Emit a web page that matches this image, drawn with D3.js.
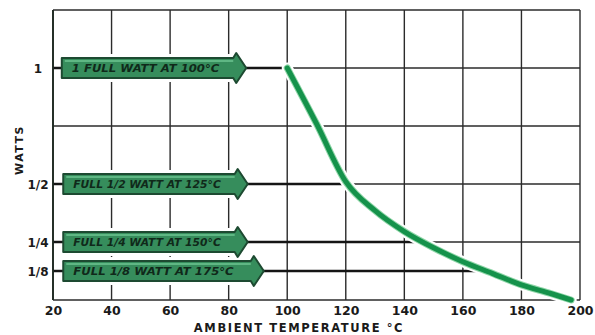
<!DOCTYPE html>
<html>
<head>
<meta charset="utf-8">
<script src="https://cdn.jsdelivr.net/npm/d3@7"></script>
<style>
  html, body { margin: 0; padding: 0; background: #fff; }
  svg { display: block; }
  text { font-family: "DejaVu Sans", sans-serif; }
</style>
</head>
<body>
<svg id="chart" width="595" height="335"></svg>
<script>
// ---- data ----
const xTicks = [20, 40, 60, 80, 100, 120, 140, 160, 180, 200];
const yGridValues = [0, 0.25, 0.5, 0.75, 1, 1.25];
const yTickValues = [1, 0.5, 0.25, 0.125];
const yTickLabels = ["1", "1/2", "1/4", "1/8"];

// derating curve (temperature °C, watts)
const curveTemps = [100, 110, 120, 130, 140, 150, 160, 170, 180, 190, 197];
const curveWatts = [1, 0.76, 0.51, 0.385, 0.295, 0.225, 0.165, 0.115, 0.065, 0.028, 0];

// banners
const bannerLabels = ["1 FULL WATT AT 100°C", "FULL 1/2 WATT AT 125°C", "FULL 1/4 WATT AT 150°C", "FULL 1/8 WATT AT 175°C"];
const bannerWatts = [1, 0.5, 0.25, 0.125];
const bannerStartTemps = [23, 23.5, 23.5, 23.5];
const bannerTipTemps = [86, 86.5, 86.5, 92];

const xTitle = "AMBIENT TEMPERATURE °C";
const yTitle = "WATTS";

// ---- layout ----
const svg = d3.select("#chart");
const x = d3.scaleLinear().domain([20, 200]).range([53, 580]);
const y = d3.scaleLinear().domain([0, 1.25]).range([300, 10]);

const gridColor = "#2b2b2b";

// vertical grid
svg.append("g").selectAll("line").data(xTicks).join("line")
  .attr("x1", d => x(d)).attr("x2", d => x(d))
  .attr("y1", y(1.25)).attr("y2", y(0))
  .attr("stroke", gridColor).attr("stroke-width", 1.4);

// horizontal grid
svg.append("g").selectAll("line").data(yGridValues).join("line")
  .attr("x1", x(20)).attr("x2", x(200))
  .attr("y1", d => y(d)).attr("y2", d => y(d))
  .attr("stroke", gridColor).attr("stroke-width", 1.4);

// curve points
const pts = curveTemps.map((t, i) => [t, curveWatts[i]]);
function tempAtWatt(w) {
  for (let i = 0; i < pts.length - 1; i++) {
    const [t0, w0] = pts[i], [t1, w1] = pts[i + 1];
    if ((w <= w0 && w >= w1)) {
      return t0 + (t1 - t0) * (w0 - w) / (w0 - w1 || 1);
    }
  }
  return pts[0][0];
}

const banners = bannerLabels.map((label, i) => ({
  label, w: bannerWatts[i], t0: bannerStartTemps[i], t1: bannerTipTemps[i]
}));

// white backdrops (gaps in vertical grid around banners)
svg.append("g").selectAll("rect").data(banners).join("rect")
  .attr("x", d => x(d.t0) - 2)
  .attr("y", d => y(d.w) - 14)
  .attr("width", d => x(d.t1) - x(d.t0) + 4)
  .attr("height", 28)
  .attr("fill", "#fff");

// thick reference lines from axis to curve
svg.append("g").selectAll("line").data(banners).join("line")
  .attr("x1", x(20)).attr("x2", d => x(tempAtWatt(d.w)))
  .attr("y1", d => y(d.w)).attr("y2", d => y(d.w))
  .attr("stroke", "#151515").attr("stroke-width", 2.4);

// axis frame left
svg.append("line")
  .attr("x1", x(20)).attr("x2", x(20)).attr("y1", y(1.25)).attr("y2", y(0))
  .attr("stroke", "#1e2a22").attr("stroke-width", 1.8);

// banners
const bodyHalf = 10, headHalf = 15, headLen = 13;
const bg = svg.append("g").selectAll("g").data(banners).join("g");
bg.append("path")
  .attr("d", d => {
    const x0 = x(d.t0), xt = x(d.t1), yc = y(d.w);
    const xb = xt - headLen;
    return `M${x0},${yc - bodyHalf} L${xb},${yc - bodyHalf} L${xb + 3},${yc - headHalf} L${xt},${yc} L${xb + 3},${yc + headHalf} L${xb},${yc + bodyHalf} L${x0},${yc + bodyHalf} Z`;
  })
  .attr("fill", "#368d5c")
  .attr("stroke", "#1d4a31")
  .attr("stroke-width", 2)
  .attr("stroke-linejoin", "round");
bg.append("path")
  .attr("d", d => {
    const x0 = x(d.t0), xt = x(d.t1), yc = y(d.w);
    const xb = xt - headLen;
    return `M${x0 + 3},${yc - bodyHalf + 3} L${xb},${yc - bodyHalf + 3}`;
  })
  .attr("stroke", "#5fb784").attr("stroke-width", 2).attr("fill", "none");
bg.append("text")
  .attr("x", d => x(d.t0) + 10)
  .attr("y", d => y(d.w) + 4)
  .attr("font-size", 10.5)
  .attr("font-weight", "bold")
  .attr("font-style", "italic")
  .attr("fill", "#10291a")
  .attr("textLength", d => (x(d.t1) - x(d.t0)) * 0.8)
  .attr("lengthAdjust", "spacingAndGlyphs")
  .text(d => d.label);

// curve
const line = d3.line().x(d => x(d[0])).y(d => y(d[1])).curve(d3.curveMonotoneX);
svg.append("path").datum(pts).attr("d", line)
  .attr("fill", "none").attr("stroke", "#fff").attr("stroke-width", 11).attr("stroke-linecap", "round");
svg.append("path").datum(pts).attr("d", line)
  .attr("fill", "none").attr("stroke", "#8fd6a8").attr("stroke-width", 7).attr("stroke-linecap", "round");
svg.append("path").datum(pts).attr("d", line)
  .attr("fill", "none").attr("stroke", "#15924b").attr("stroke-width", 5).attr("stroke-linecap", "round");

// x axis labels
const xAxis = d3.axisBottom(x).tickValues(xTicks).tickSize(0).tickPadding(6).tickFormat(d3.format("d"));
const xg = svg.append("g").attr("transform", `translate(0,${y(0)})`).call(xAxis);
xg.select(".domain").remove();
xg.selectAll("text")
  .attr("font-family", "DejaVu Sans, sans-serif")
  .attr("font-size", 12.5).attr("font-weight", "bold").attr("fill", "#1a1a1a");

// y tick labels
svg.append("g").selectAll("text").data(yTickValues).join("text")
  .attr("x", 38).attr("y", d => y(d) + 4.5)
  .attr("text-anchor", "middle")
  .attr("font-size", 12).attr("font-weight", "bold").attr("fill", "#1a1a1a")
  .text((d, i) => yTickLabels[i]);

// titles
svg.append("text")
  .attr("x", 299).attr("y", 332)
  .attr("text-anchor", "middle")
  .attr("font-size", 11.5).attr("font-weight", "bold").attr("letter-spacing", 1.6)
  .attr("fill", "#1a1a1a")
  .text(xTitle);
svg.append("text")
  .attr("transform", "translate(23,150) rotate(-90)")
  .attr("text-anchor", "middle")
  .attr("font-size", 11).attr("font-weight", "bold").attr("letter-spacing", 1.5)
  .attr("fill", "#1a1a1a")
  .text(yTitle);
</script>
</body>
</html>
